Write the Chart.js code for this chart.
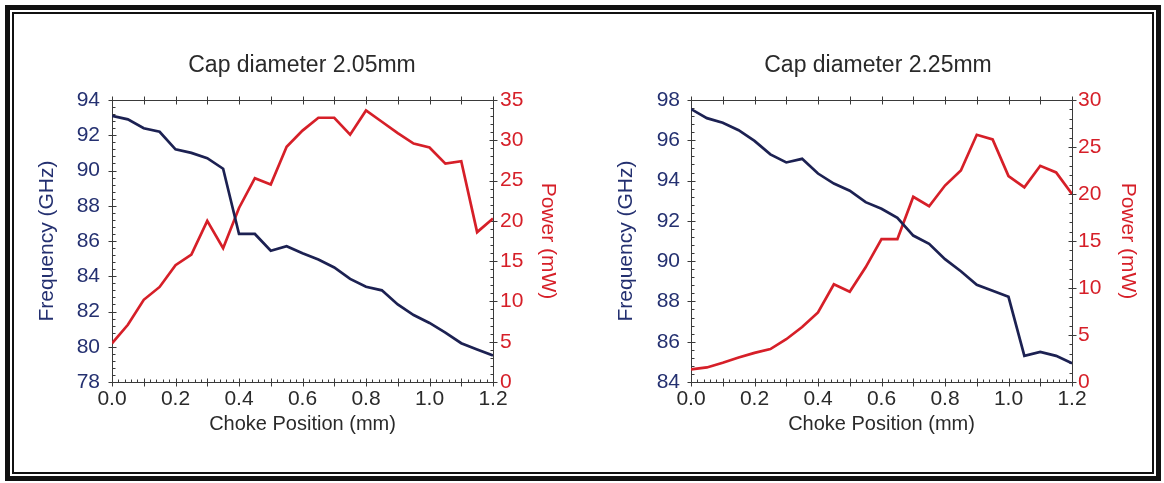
<!DOCTYPE html>
<html>
<head>
<meta charset="utf-8">
<script src="https://cdn.jsdelivr.net/npm/chart.js@4.4.1/dist/chart.umd.min.js"></script>
<style>
  html, body { margin: 0; padding: 0; background: #fff; }
  #page { position: relative; width: 1164px; height: 483px; overflow: hidden; }
  .frame-outer { position: absolute; left: 5px; top: 5px; width: 1156px; height: 476px;
    border: 5px solid #111; box-sizing: border-box; }
  .frame-inner { position: absolute; left: 2px; top: 2px; right: 2px; bottom: 2px;
    border: 2px solid #111; }
  canvas { position: absolute; top: 0; }
  #left { left: 0; }
  #right { left: 590px; }
</style>
</head>
<body>
<div id="page">
  <div class="frame-outer"><div class="frame-inner"></div></div>
  <canvas id="left" width="604" height="483"></canvas>
  <canvas id="right" width="576" height="483"></canvas>
</div>
<script>
// Choke position (mm), one reading every 0.05 mm
const chokePos = [0, 0.05, 0.1, 0.15, 0.2, 0.25, 0.3, 0.35, 0.4, 0.45, 0.5, 0.55, 0.6,
                  0.65, 0.7, 0.75, 0.8, 0.85, 0.9, 0.95, 1.0, 1.05, 1.1, 1.15, 1.2];

// Cap diameter 2.05mm
const freq205 = [93.1, 92.9, 92.4, 92.2, 91.2, 91.0, 90.7, 90.1, 86.4, 86.4, 85.45, 85.7, 85.3,
                 84.95, 84.5, 83.85, 83.4, 83.2, 82.4, 81.8, 81.35, 80.8, 80.2, 79.85, 79.5];
const power205 = [4.8, 7.1, 10.2, 11.8, 14.5, 15.8, 20.0, 16.6, 21.6, 25.3, 24.5, 29.2, 31.2,
                  32.8, 32.8, 30.7, 33.7, 32.3, 30.9, 29.6, 29.1, 27.1, 27.4, 18.6, 20.3];

// Cap diameter 2.25mm
const freq225 = [97.55, 97.1, 96.87, 96.5, 95.97, 95.3, 94.9, 95.08, 94.35, 93.85, 93.5, 92.93, 92.6,
                 92.15, 91.27, 90.86, 90.1, 89.5, 88.83, 88.53, 88.23, 85.3, 85.49, 85.3, 84.93];
const power225 = [1.35, 1.55, 2.05, 2.6, 3.1, 3.5, 4.55, 5.85, 7.4, 10.4, 9.6, 12.2, 15.2,
                  15.2, 19.7, 18.7, 20.9, 22.5, 26.3, 25.8, 21.9, 20.7, 23.0, 22.3, 20.0];

const xTicks = [0, 0.2, 0.4, 0.6, 0.8, 1.0, 1.2];

const FONT = '"Liberation Sans", Arial, sans-serif';
const NAVY = '#1c2152';
const NAVY_TEXT = '#243070';
const RED = '#d61f28';
const GREY = '#2a2a2a';

// Plot frame plus major/minor tick marks, drawn through the scales
const axisTicks = {
  id: 'axisTicks',
  beforeDatasetsDraw(chart) {
    const {ctx, chartArea: a, scales} = chart;
    ctx.save();
    ctx.strokeStyle = '#3a3a3a';
    ctx.lineWidth = 1;
    ctx.strokeRect(Math.round(a.left) + 0.5, Math.round(a.top) + 0.5,
      Math.round(a.right - a.left), Math.round(a.bottom - a.top));
    ctx.beginPath();
    const top = Math.round(a.top) + 0.5, bot = Math.round(a.bottom) + 0.5;
    const lft = Math.round(a.left) + 0.5, rgt = Math.round(a.right) + 0.5;

    // x: major every 0.1, minor every 0.02
    const xs = scales.x;
    for (let i = 0; i <= 60; i++) {
      const px = Math.round(xs.getPixelForValue(i * 0.02)) + 0.5;
      if (i % 5 === 0) {
        ctx.moveTo(px, bot - 4); ctx.lineTo(px, bot + 4);
        ctx.moveTo(px, top - 4); ctx.lineTo(px, top + 4);
      } else {
        ctx.moveTo(px, bot - 3); ctx.lineTo(px, bot);
      }
    }

    // y axes: major at stepSize, 5 minors per step
    [['y', lft, 1], ['y1', rgt, -1]].forEach(([id, edge, dir]) => {
      const s = scales[id];
      const step = s.options.ticks.stepSize / 5;
      const n = Math.round((s.max - s.min) / step);
      for (let i = 0; i <= n; i++) {
        const py = Math.round(s.getPixelForValue(s.min + i * step)) + 0.5;
        if (i % 5 === 0) {
          ctx.moveTo(edge - 4, py); ctx.lineTo(edge + 4, py);
        } else {
          ctx.moveTo(edge, py); ctx.lineTo(edge + dir * 3, py);
        }
      }
    });
    ctx.stroke();
    ctx.restore();
  }
};

function makeChart(canvasId, cfg) {
  return new Chart(document.getElementById(canvasId), {
    type: 'line',
    data: {
      datasets: [
        {
          label: 'Frequency',
          data: chokePos.map((x, i) => ({x, y: cfg.freq[i]})),
          borderColor: NAVY,
          borderWidth: 2.7,
          pointRadius: 0,
          tension: 0,
          yAxisID: 'y'
        },
        {
          label: 'Power',
          data: chokePos.map((x, i) => ({x, y: cfg.power[i]})),
          borderColor: RED,
          borderWidth: 2.7,
          pointRadius: 0,
          tension: 0,
          yAxisID: 'y1'
        }
      ]
    },
    options: {
      responsive: false,
      animation: false,
      layout: { padding: 0 },
      plugins: {
        legend: { display: false },
        tooltip: { enabled: false },
        title: {
          display: true,
          text: cfg.title,
          color: GREY,
          font: { family: FONT, size: 23, weight: 'normal' },
          padding: { top: 52, bottom: 20.4 }
        }
      },
      scales: {
        x: {
          type: 'linear',
          position: 'bottom',
          min: 0,
          max: 1.2,
          afterBuildTicks: (s) => { s.ticks = xTicks.map(v => ({value: v})); },
          afterFit: (s) => { s.height = 101; },
          grid: { display: false, drawTicks: false },
          border: { display: false },
          ticks: {
            color: GREY,
            padding: 5,
            maxRotation: 0,
            font: { family: FONT, size: 21 },
            callback: (v) => v.toFixed(1)
          },
          title: {
            display: true,
            text: 'Choke Position (mm)',
            color: GREY,
            font: { family: FONT, size: 20 },
            padding: { top: 0, bottom: 47 }
          }
        },
        y: {
          position: 'left',
          min: cfg.fMin,
          max: cfg.fMax,
          afterFit: (s) => { s.width = cfg.leftW; },
          grid: { display: false, drawTicks: false },
          border: { display: false },
          ticks: {
            stepSize: 2,
            color: NAVY_TEXT,
            padding: cfg.leftPad,
            font: { family: FONT, size: 21 }
          },
          title: {
            display: true,
            text: 'Frequency (GHz)',
            color: NAVY_TEXT,
            font: { family: FONT, size: 21 },
            padding: { top: cfg.fTitlePad, bottom: 0 }
          }
        },
        y1: {
          position: 'right',
          min: 0,
          max: cfg.pMax,
          afterFit: (s) => { s.width = cfg.rightW; },
          grid: { display: false, drawTicks: false },
          border: { display: false },
          ticks: {
            stepSize: 5,
            color: RED,
            padding: cfg.rightPad,
            font: { family: FONT, size: 21 }
          },
          title: {
            display: true,
            text: 'Power (mW)',
            color: RED,
            font: { family: FONT, size: 21 },
            padding: { top: cfg.pTitlePad, bottom: 0 }
          }
        }
      }
    },
    plugins: [axisTicks]
  });
}

makeChart('left', {
  title: 'Cap diameter 2.05mm',
  freq: freq205, power: power205,
  fMin: 78, fMax: 94, pMax: 35,
  leftW: 112, rightW: 111,
  leftPad: 12, rightPad: 7,
  fTitlePad: 35, pTitlePad: 44
});

makeChart('right', {
  title: 'Cap diameter 2.25mm',
  freq: freq225, power: power225,
  fMin: 84, fMax: 98, pMax: 30,
  leftW: 101, rightW: 94,
  leftPad: 11, rightPad: 6,
  fTitlePad: 24, pTitlePad: 26
});
</script>
</body>
</html>
